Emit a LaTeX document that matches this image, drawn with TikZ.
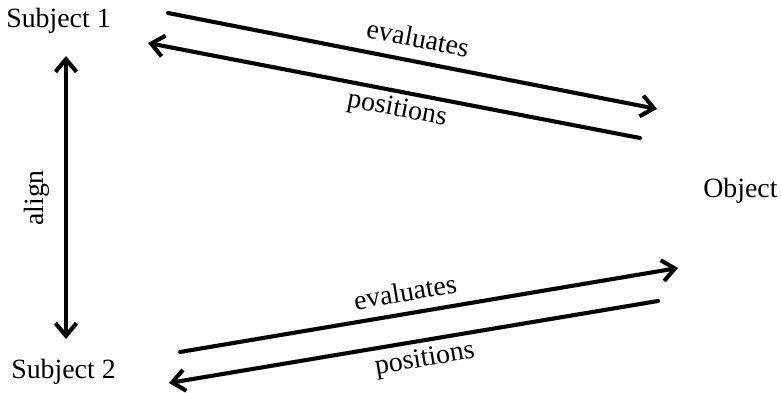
\documentclass[tikz,border=0pt]{standalone}
\usepackage{fontspec}
\setmainfont{Liberation Serif}
\usetikzlibrary{arrows.meta}
\begin{document}
\begin{tikzpicture}[x=0.025cm, y=-0.025cm, line join=round, line cap=round,
	>={Straight Barb[length=9pt,width=15pt]}, font=\fontsize{19.8}{23}\selectfont]
	\useasboundingbox (0,0) rectangle (781,393);
	\tikzset{lbl/.style={inner sep=0pt}, arr/.style={line width=2.9pt}}
	\node[lbl, anchor=base west] (S1) at (6,28) {Subject 1};
	\node[lbl, anchor=base west] (S2) at (11,378) {Subject 2};
	\node[lbl, anchor=base west] (O) at (703,197) {Object};
	\path
	(168,13) coordinate (E1s)
	(657,109) coordinate (E1e)
	(640,138) coordinate (P1s)
	(148,43) coordinate (P1e)
	(180,352) coordinate (E2s)
	(678,268) coordinate (E2e)
	(658,301) coordinate (P2s)
	(169,383) coordinate (P2e)
	(66,56) coordinate (A1)
	(66,339) coordinate (A2)
	;
	\draw[arr,->] (E1s)--(E1e);
	\draw[arr,->] (P1s)--(P1e);
	\draw[arr,->] (E2s)--(E2e);
	\draw[arr,->] (P2s)--(P2e);
	\draw[arr,<->] (A1)--(A2);
	\node[lbl, rotate=-11.1] (ev1) at (418,38) {evaluates};
	\node[lbl, rotate=-10.9] (po1) at (397,110) {positions};
	\node[lbl, rotate=9.6] (ev2) at (405,292) {evaluates};
	\node[lbl, rotate=9.5] (po2) at (425,360) {positions};
	\node[lbl, rotate=90] (al) at (37,198) {align};
\end{tikzpicture}
\end{document}
